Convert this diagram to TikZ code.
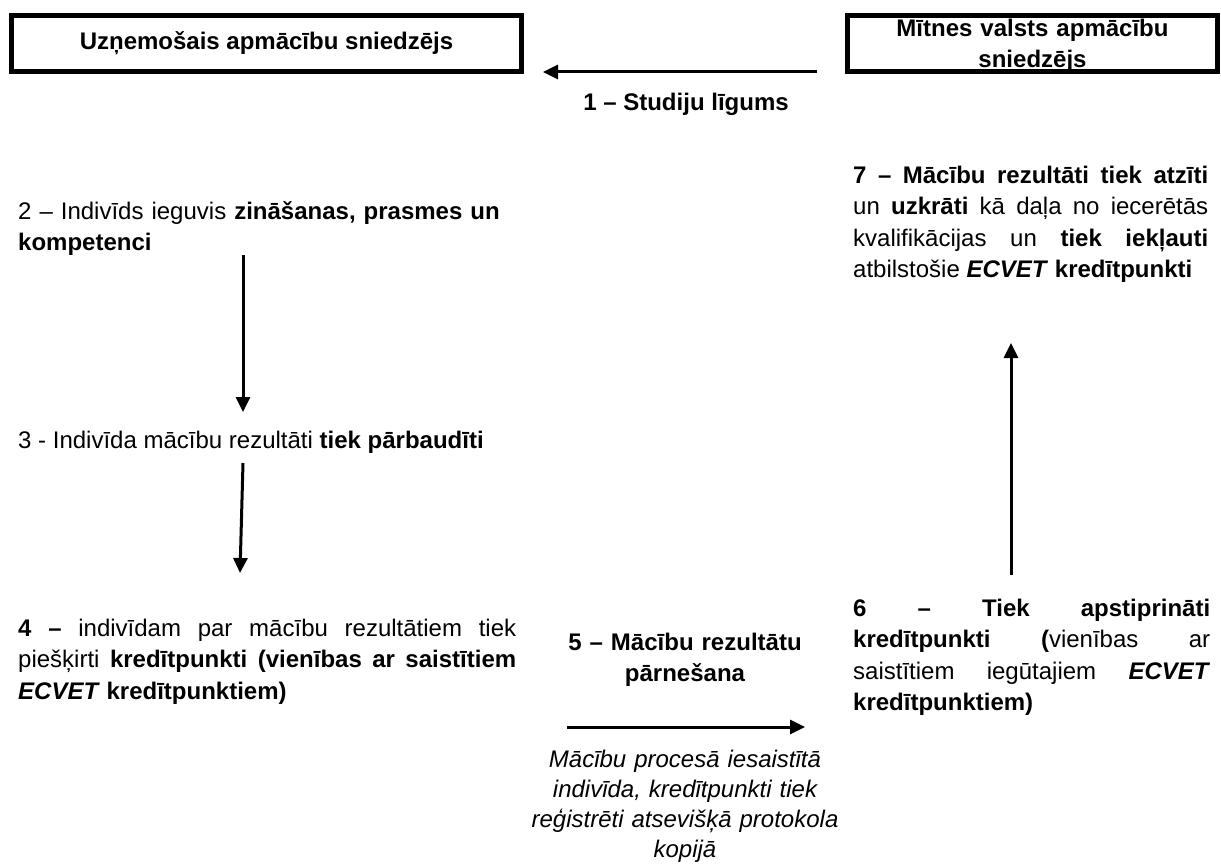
\documentclass[tikz,border=0pt]{standalone}
\usepackage{fontspec}
\setmainfont{Liberation Sans}
\usetikzlibrary{arrows.meta}
\begin{document}
\begin{tikzpicture}[x=1pt,y=-1pt,
  txt/.style={inner sep=0pt, font=\fontsize{24}{31.5}\selectfont},
  provbox/.style={draw, line width=5pt, inner sep=0pt, font=\bfseries\fontsize{24}{34}\selectfont, align=center},
  flow/.style={line width=3pt, -{Triangle[length=15pt,width=14pt]}}
]
\path[use as bounding box, fill=white] (0,0) rectangle (1221,864);

% boxes
\node[provbox, minimum width=510pt, minimum height=56pt] (host) at (266.5,43.5) {Uzņemošais apmācību sniedzējs};
\node[provbox, minimum width=370pt, minimum height=56pt] (home) at (1032.5,43.5) {};
\node[txt, font=\bfseries\fontsize{24}{31}\selectfont, text width=370pt, align=center, anchor=base] (homelabel) at (1032.5,37) {Mītnes valsts apmācību\\sniedzējs};

% step 1
\coordinate (a1s) at (817,72);
\coordinate (a1e) at (543,72);
\draw[flow] (a1s) -- (a1e);
\node[txt, font=\bfseries\fontsize{24}{31.5}\selectfont, anchor=base] (s1) at (686,111) {1 – Studiju līgums};

% step 2
\node[txt, text width=520pt, align=left, anchor=base west] (s2) at (18,219)
  {2 – Indivīds ieguvis \textbf{zināšanas, prasmes un}\\\textbf{kompetenci}};
\coordinate (aAs) at (243,255);
\coordinate (aAe) at (243,412);
\draw[flow] (aAs) -- (aAe);

% step 3
\node[txt, anchor=base west] (s3) at (18,448)
  {3 - Indivīda mācību rezultāti \textbf{tiek pārbaudīti}};
\coordinate (aBs) at (243,463);
\coordinate (aBe) at (240,573);
\draw[flow] (aBs) -- (aBe);

% step 4
\node[txt, text width=498pt, align=justify, anchor=base west] (s4) at (18,636)
  {\textbf{4 –} indivīdam par mācību rezultātiem tiek\linebreak
   piešķirti \textbf{kredītpunkti (vienības ar saistītiem}\linebreak
   \textbf{\textit{ECVET} kredītpunktiem)}};

% step 5
\node[txt, font=\bfseries\fontsize{24}{31}\selectfont, text width=300pt, align=center, anchor=base] (s5) at (685,650)
  {5 – Mācību rezultātu\\pārnešana};
\coordinate (a5s) at (567,727);
\coordinate (a5e) at (805,727);
\draw[flow] (a5s) -- (a5e);
\node[txt, font=\itshape\fontsize{24}{30}\selectfont, text width=340pt, align=center, anchor=base] (s5b) at (685,767)
  {Mācību procesā iesaistītā\\indivīda, kredītpunkti tiek\\reģistrēti atsevišķā protokola\\kopijā};

% step 6
\node[txt, text width=357pt, align=justify, anchor=base west] (s6) at (853,616)
  {\textbf{6 – Tiek apstiprināti}\linebreak
   \textbf{kredītpunkti (}vienības ar\linebreak
   saistītiem iegūtajiem \textbf{\textit{ECVET}}\linebreak
   \textbf{kredītpunktiem)}};
\coordinate (a6s) at (1011,575);
\coordinate (a6e) at (1011,343);
\draw[flow] (a6s) -- (a6e);

% step 7
\node[txt, text width=355pt, align=justify, anchor=base west] (s7) at (853,183)
  {\textbf{7 – Mācību rezultāti tiek atzīti}\linebreak
   un \textbf{uzkrāti} kā daļa no iecerētās\linebreak
   kvalifikācijas un \textbf{tiek iekļauti}\linebreak
   atbilstošie \textbf{\textit{ECVET} kredītpunkti}};
\end{tikzpicture}
\end{document}
